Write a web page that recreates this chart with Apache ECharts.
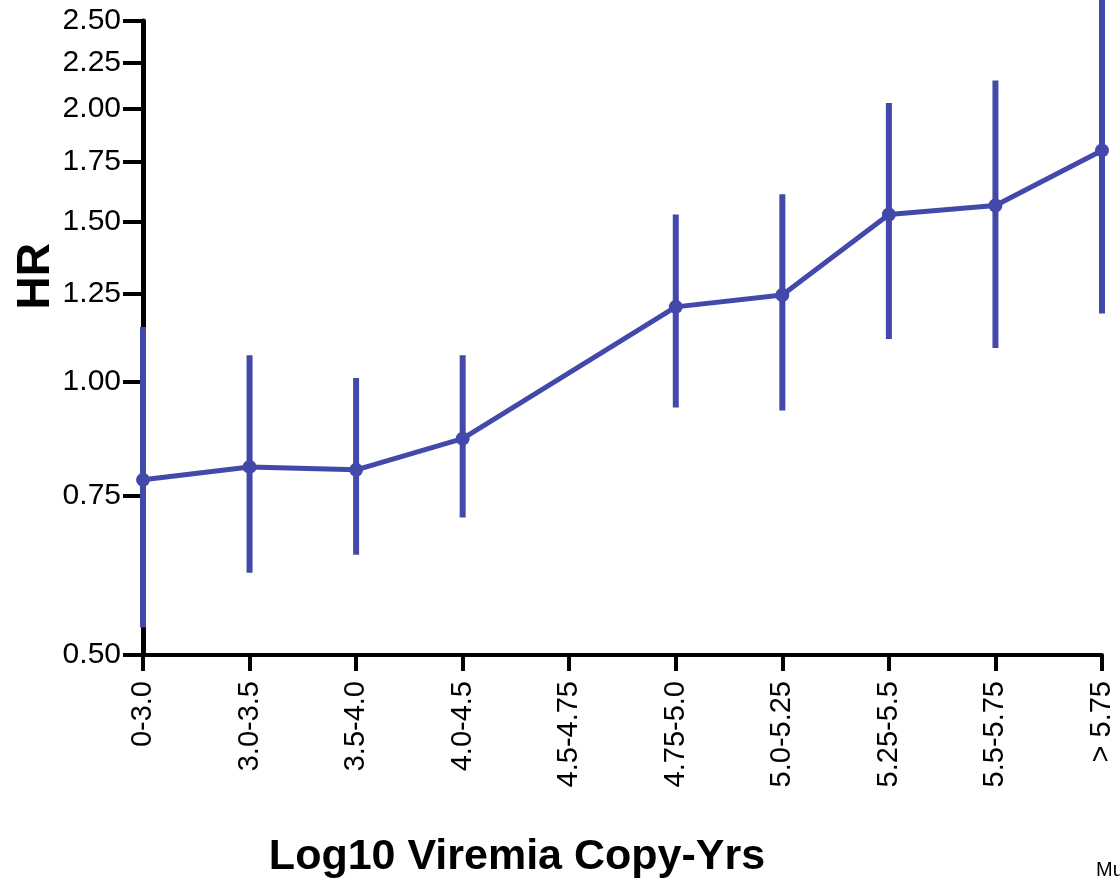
<!DOCTYPE html>
<html>
<head>
<meta charset="utf-8">
<script src="https://cdn.jsdelivr.net/npm/echarts@6/dist/echarts.min.js"></script>
<style>
html,body{margin:0;padding:0;background:#fff;}
#chart{width:1120px;height:879px;}
</style>
</head>
<body>
<div id="chart"></div>
<script>
// ---- data ----
var categories = ['0-3.0','3.0-3.5','3.5-4.0','4.0-4.5','4.5-4.75','4.75-5.0','5.0-5.25','5.25-5.5','5.5-5.75','> 5.75'];
var hr    = [0.78, 0.806, 0.80, 0.866, null, 1.21, 1.247, 1.53, 1.565, 1.80];
var lower = [0.536, 0.616, 0.645, 0.709, null, 0.937, 0.93, 1.115, 1.09, 1.19];
var upper = [1.15, 1.07, 1.01, 1.07, null, 1.53, 1.61, 2.03, 2.15, 2.75];
var yTicks = [0.5, 0.75, 1.0, 1.25, 1.5, 1.75, 2.0, 2.25, 2.5];

var BLUE = '#4349ab';
var chart = echarts.init(document.getElementById('chart'));

var errData = [];
for (var i = 0; i < categories.length; i++) {
  if (lower[i] != null) errData.push([i, lower[i], upper[i]]);
}

chart.setOption({
  animation: false,
  backgroundColor: '#fff',
  grid: {left: 143, right: 18, top: 21, bottom: 224, containLabel: false},
  xAxis: {
    type: 'category',
    data: categories,
    boundaryGap: false,
    axisLine: {lineStyle: {color: '#000', width: 4}},
    axisTick: {show: true, length: 16, lineStyle: {color: '#000', width: 4}, alignWithLabel: true},
    axisLabel: {rotate: 90, margin: 26, color: '#000', fontFamily: 'Liberation Sans, Arial', fontSize: 29, interval: 0},
    splitLine: {show: false}
  },
  yAxis: {
    type: 'log',
    min: 0.5,
    max: 2.5,
    axisLine: {show: true, lineStyle: {color: '#000', width: 5}},
    axisTick: {show: true, length: 20, customValues: yTicks, lineStyle: {color: '#000', width: 4}},
    axisLabel: {customValues: yTicks, margin: 22, color: '#000', fontFamily: 'Liberation Sans, Arial', fontSize: 30,
      formatter: function (v) { return Number(v).toFixed(2); }},
    splitLine: {show: false},
    minorTick: {show: false}
  },
  graphic: [
    {type: 'text', left: 13, top: 243, rotation: Math.PI / 2,
      style: {text: 'HR', font: 'bold 46px Liberation Sans, Arial', fill: '#000'}},
    {type: 'text', x: 517, y: 857,
      style: {text: 'Log10 Viremia Copy-Yrs', font: 'bold 43px Liberation Sans, Arial', fill: '#000', align: 'center', verticalAlign: 'middle'}},
    {type: 'text', x: 1096, y: 870,
      style: {text: 'Mu', font: '20px Liberation Sans, Arial', fill: '#000', verticalAlign: 'middle'}}
  ],
  series: [
    {
      type: 'custom',
      data: errData,
      clip: false,
      renderItem: function (params, api) {
        var lo = api.coord([api.value(0), api.value(1)]);
        var hi = api.coord([api.value(0), api.value(2)]);
        return {type: 'line', shape: {x1: lo[0], y1: lo[1], x2: hi[0], y2: hi[1]},
          style: {stroke: BLUE, lineWidth: 6}};
      },
      z: 2
    },
    {
      type: 'line',
      data: hr,
      connectNulls: true,
      symbol: 'circle',
      symbolSize: 14,
      lineStyle: {color: BLUE, width: 5},
      itemStyle: {color: BLUE},
      z: 3
    }
  ]
});
</script>
</body>
</html>
